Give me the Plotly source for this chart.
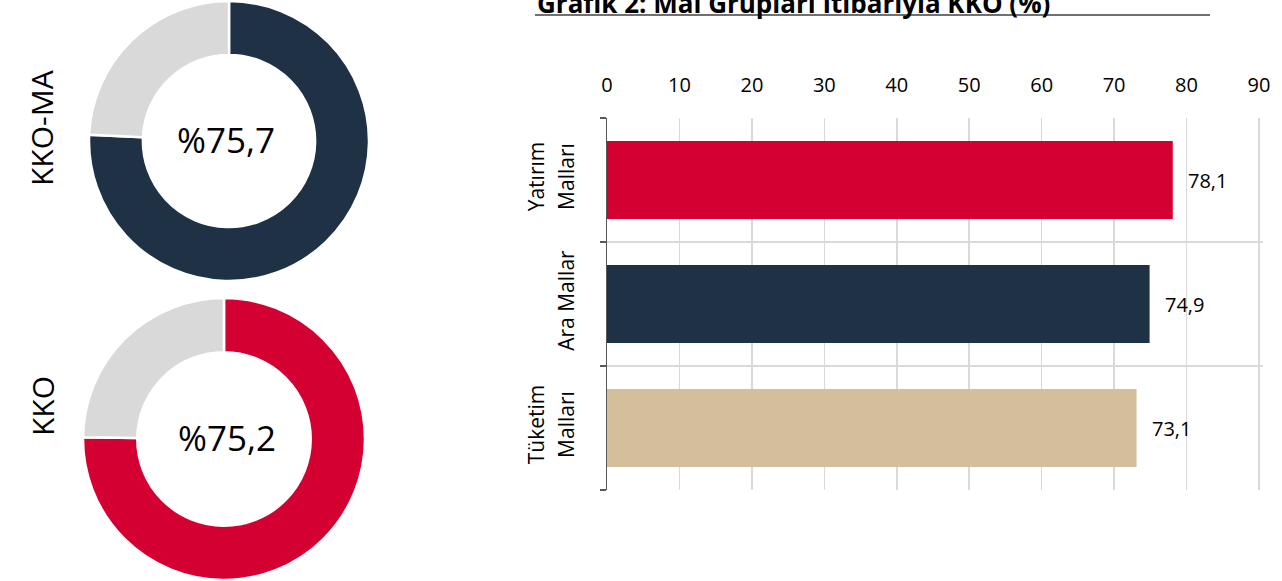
import plotly.graph_objects as go

# ---- data ----
title_text = "Grafik 2: Mal Grupları İtibarıyla KKO (%)"
categories = ["Yatırım Malları", "Ara Mallar", "Tüketim Malları"]
category_lines = [["Yatırım", "Malları"], ["Ara Mallar"], ["Tüketim", "Malları"]]
values = [78.1, 74.9, 73.1]
bar_colors = ["#d50032", "#1f3145", "#d4be9c"]

donut_names = ["KKO-MA", "KKO"]
donut_values = [75.7, 75.2]
donut_colors = ["#1f3145", "#d50032"]
rest_color = "#d9d9d9"

xticks = [0, 10, 20, 30, 40, 50, 60, 70, 80, 90]

W, H = 1282, 581
FONT = "Open Sans"

def px(x):
    return x / W

def py(y):
    return 1 - y / H

fig = go.Figure()

fig.add_trace(go.Bar(
    x=values, y=categories, orientation="h",
    marker=dict(color=bar_colors, line=dict(width=0)),
    width=0.63, hoverinfo="skip", showlegend=False,
    xaxis="x", yaxis="y",
))

# donuts
donut_domains = [
    dict(x=[px(89), px(369)], y=[py(281), py(1)]),
    dict(x=[px(83), px(365)], y=[py(580), py(298)]),
]
donut_centers = [(226, 139), (227, 437)]
label_pos = [(42, 128), (42, 406)]
for name, v, col, dom in zip(donut_names, donut_values, donut_colors, donut_domains):
    fig.add_trace(go.Pie(
        values=[v, round(100 - v, 1)],
        labels=[name, "rest"],
        marker=dict(colors=[col, rest_color], line=dict(color="white", width=2.5)),
        hole=0.615, sort=False, direction="clockwise", rotation=0,
        textinfo="none", hoverinfo="skip", showlegend=False,
        domain=dom,
    ))

annotations = []
for name, v, (cx, cy), (lx, ly) in zip(donut_names, donut_values, donut_centers, label_pos):
    annotations.append(dict(
        x=px(cx), y=py(cy), xref="paper", yref="paper",
        text="%" + f"{v:.1f}".replace(".", ","), showarrow=False,
        font=dict(family=FONT, size=35, color="#000000"),
        xanchor="center", yanchor="middle",
    ))
    annotations.append(dict(
        x=px(lx), y=py(ly), xref="paper", yref="paper",
        text=name, showarrow=False, textangle=-90,
        font=dict(family=FONT, size=30, color="#000000"),
        xanchor="center", yanchor="middle",
    ))

for v, c in zip(values, categories):
    annotations.append(dict(
        x=v, y=c, xref="x", yref="y",
        text=f"{v:.1f}".replace(".", ","), showarrow=False,
        xanchor="left", yanchor="middle", xshift=13,
        font=dict(family=FONT, size=20, color="#000000"),
    ))

annotations.append(dict(
    x=px(535), y=py(3.5), xref="paper", yref="paper",
    text="<b>" + title_text + "</b>", showarrow=False,
    xanchor="left", yanchor="middle",
    font=dict(family=FONT, size=26, color="#000000"),
))

ticktext = ["<br>".join('<span style="font-size:21px">' + s + "</span>" for s in lines)
            for lines in category_lines]

fig.update_layout(
    width=W, height=H,
    margin=dict(l=0, r=0, t=0, b=0),
    paper_bgcolor="white", plot_bgcolor="white",
    font=dict(family=FONT, color="#000000"),
    xaxis=dict(
        domain=[px(607), px(1262.6)], range=[0, 90.5], side="top",
        tickvals=xticks, ticktext=[str(t) for t in xticks],
        showgrid=True, gridcolor="#d9d9d9", gridwidth=1.5,
        zeroline=False, showline=False, ticks="",
        ticklabelstandoff=21,
        tickfont=dict(family=FONT, size=20, color="#000000"),
        anchor="y", fixedrange=True, automargin=False,
    ),
    yaxis=dict(
        domain=[py(490), py(118)], autorange="reversed",
        type="category", tickson="boundaries",
        tickvals=categories, ticktext=ticktext,
        showgrid=True, gridcolor="#d9d9d9", gridwidth=1.5,
        showline=True, linecolor="#595959", linewidth=1.5,
        ticks="outside", ticklen=6, tickcolor="#595959", tickwidth=1.5,
        tickangle=-90, ticklabelstandoff=22,
        tickfont=dict(family=FONT, size=23, color="#000000"),
        zeroline=False, anchor="x", fixedrange=True, automargin=False,
    ),
    annotations=annotations,
    shapes=[dict(type="line", xref="paper", yref="paper",
                 x0=px(535), x1=px(1210), y0=py(15), y1=py(15),
                 line=dict(color="#404040", width=1.5))],
    separators=",.",
)

fig.write_html(
    "out.html",
    config={"displayModeBar": False, "staticPlot": True},
    post_script="document.body.style.margin='0';document.body.style.overflow='hidden';",
)
